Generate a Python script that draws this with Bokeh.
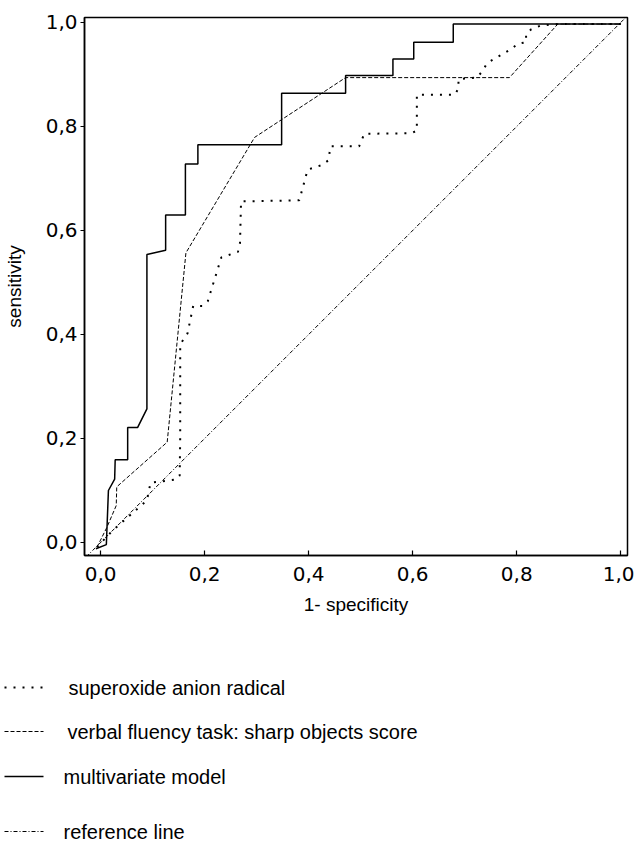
from bokeh.plotting import figure
from bokeh.models import Range1d, FixedTicker, CustomJSTickFormatter
from bokeh.layouts import column, row
from bokeh.embed import file_html
from bokeh.resources import INLINE
from bokeh.core.properties import value

# ---- data ----
multi_fpr = [-0.009, 0.011, 0.015, 0.027, 0.028, 0.052, 0.052, 0.071, 0.089, 0.089, 0.125, 0.125,
             0.163, 0.163, 0.187, 0.187, 0.348, 0.348, 0.471, 0.471, 0.562, 0.562, 0.602, 0.602,
             0.678, 0.678, 1.0]
multi_tpr = [-0.012, -0.004, 0.100, 0.122, 0.159, 0.159, 0.221, 0.221, 0.257, 0.554, 0.562, 0.630,
             0.630, 0.728, 0.728, 0.765, 0.765, 0.864, 0.864, 0.898, 0.898, 0.930, 0.930, 0.962,
             0.962, 0.997, 0.997]

verbal_fpr = [-0.007, 0.012, 0.030, 0.031, 0.128, 0.164, 0.296, 0.471, 0.786, 0.879, 1.0]
verbal_tpr = [-0.009, 0.029, 0.071, 0.107, 0.193, 0.557, 0.779, 0.894, 0.894, 0.997, 0.997]

superoxide_fpr = [-0.007, 0.022, 0.089, 0.096, 0.145, 0.152, 0.153, 0.153, 0.167, 0.178, 0.196,
                  0.206, 0.232, 0.264, 0.268, 0.270, 0.382, 0.398, 0.426, 0.438, 0.442, 0.497,
                  0.507, 0.597, 0.608, 0.608, 0.681, 0.688, 0.688, 0.723, 0.734, 0.743, 0.771,
                  0.788, 0.802, 0.818, 0.818, 0.828, 0.846, 0.879, 1.0]
superoxide_tpr = [-0.009, 0.022, 0.081, 0.115, 0.121, 0.129, 0.202, 0.381, 0.402, 0.455, 0.455,
                  0.464, 0.548, 0.559, 0.576, 0.656, 0.658, 0.717, 0.726, 0.735, 0.762, 0.762,
                  0.786, 0.787, 0.792, 0.861, 0.861, 0.873, 0.891, 0.894, 0.906, 0.922, 0.938,
                  0.948, 0.959, 0.962, 0.978, 0.987, 0.994, 0.997, 0.997]

ref_x = [-0.04, 1.02]
ref_y = [-0.04, 1.02]

tick_values = [0.0, 0.2, 0.4, 0.6, 0.8, 1.0]

legend_labels = ["superoxide anion radical",
                 "verbal fluency task: sharp objects score",
                 "multivariate model",
                 "reference line"]

# ---- styles ----
BLACK = "#000000"
styles = [dict(line_dash="2 7", line_width=2.0),
          dict(line_dash="4 2", line_width=1.0),
          dict(line_dash="solid", line_width=1.5),
          dict(line_dash="4 2 1 2", line_width=1.0)]

W = 634
H_MAIN = 620
H_LEG = 224

p = figure(width=W, height=H_MAIN, output_backend="svg", toolbar_location=None,
           x_range=Range1d(-0.031, 1.013), y_range=Range1d(-0.025, 1.0096),
           min_border_left=81, min_border_right=W - 627, min_border_top=17, min_border_bottom=65)
p.grid.visible = False
p.outline_line_color = BLACK
p.outline_line_width = 1.5
p.background_fill_color = "white"
p.border_fill_color = "white"

fmt = CustomJSTickFormatter(code="return tick.toFixed(1).replace('.', ',');")
for ax in (p.xaxis[0], p.yaxis[0]):
    ax.ticker = FixedTicker(ticks=tick_values)
    ax.formatter = fmt
    ax.minor_tick_line_color = None
    ax.axis_line_color = BLACK
    ax.axis_line_width = 1.5
    ax.major_tick_line_color = BLACK
    ax.major_tick_line_width = 1.2
    ax.major_label_text_font = "DejaVu Sans"
    ax.major_label_text_font_size = "20px"
    ax.major_label_text_color = BLACK
    ax.axis_label_text_font = "Liberation Sans"
    ax.axis_label_text_font_size = "19px"
    ax.axis_label_text_font_style = "normal"
    ax.axis_label_text_color = BLACK

p.xaxis.axis_label = "1- specificity"
p.yaxis.axis_label = "sensitivity"
p.xaxis.major_tick_in = 5
p.xaxis.major_tick_out = 0
p.xaxis.major_label_standoff = 11
p.xaxis.axis_label_standoff = 10
p.yaxis.major_tick_in = 0
p.yaxis.major_tick_out = 4
p.yaxis.major_label_standoff = 3
p.yaxis.axis_label_standoff = 18

p.line(ref_x, ref_y, line_color=BLACK, **styles[3])
p.line(superoxide_fpr, superoxide_tpr, line_color=BLACK, **styles[0])
p.line(verbal_fpr, verbal_tpr, line_color=BLACK, **styles[1])
p.line(multi_fpr, multi_tpr, line_color=BLACK, **styles[2])

# ---- legend panel below (its data coordinates = picture pixels) ----
PAGE_TOP = H_MAIN
leg = figure(width=W, height=H_LEG, output_backend="svg", toolbar_location=None,
             x_axis_type=None, y_axis_type=None,
             x_range=Range1d(0, W), y_range=Range1d(PAGE_TOP + H_LEG, PAGE_TOP),
             min_border_left=0, min_border_right=0, min_border_top=0, min_border_bottom=0)
leg.grid.visible = False
leg.outline_line_color = None
leg.background_fill_color = "white"
leg.border_fill_color = "white"

row_y = [687, 731, 776, 831]
sample_x = [4, 43]
text_x = [68, 67, 63, 63]
for yy, st in zip(row_y, styles):
    leg.line(sample_x, [yy, yy], line_color=BLACK, **st)
leg.text(x=text_x, y=row_y, text=legend_labels, text_font=value("Liberation Sans"),
         text_font_size="20px", text_baseline="middle", text_align="left", text_color=BLACK)

layout = column(p, row(leg))
open("out.html", "w").write(file_html(layout, INLINE))
